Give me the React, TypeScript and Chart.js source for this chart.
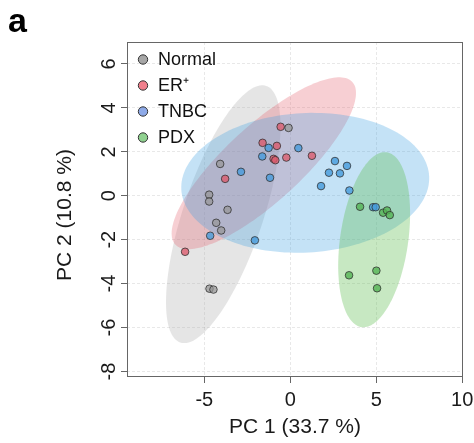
import React, { useEffect, useRef } from "react";
import { Chart, registerables } from "chart.js";
Chart.register(...registerables);

const seriesLabels = ["Normal", "ER⁺", "TNBC", "PDX"];

const normalX = [-0.1, -4.08, -4.72, -4.72, -3.65, -4.31, -4.02, -4.7, -4.47];
const normalY = [3.09, 1.45, 0.05, -0.26, -0.64, -1.23, -1.58, -4.23, -4.27];

const erX = [-0.56, -1.61, -0.78, -0.97, -0.87, -0.23, 1.26, -3.79, -6.12];
const erY = [3.14, 2.41, 2.27, 1.68, 1.62, 1.74, 1.82, 0.77, -2.55];

const tnbcX = [-1.26, 0.47, -1.63, -2.87, -1.18, -4.66, -2.06, 2.6, 3.3, 2.25, 2.89, 1.79, 3.44, 4.82, 4.97];
const tnbcY = [2.18, 2.17, 1.79, 1.09, 0.82, -1.82, -2.03, 1.58, 1.36, 1.05, 1.02, 0.44, 0.24, -0.52, -0.52];

const pdxX = [4.06, 5.4, 5.63, 5.79, 3.42, 5.01, 5.05];
const pdxY = [-0.5, -0.77, -0.67, -0.88, -3.62, -3.41, -4.21];

// confidence ellipses: [centerX, centerY, axis1X, axis1Y, axis2X, axis2Y] in data units
const normalEllipse = [-3.9, -0.84, 2.5, 5.84, 2.2, -0.58];
const erEllipse = [-1.54, 1.48, 5.15, 3.7, 1.5, -1.27];
const tnbcEllipse = [0.87, 0.59, 7.21, 0.3, 0.21, -3.17];
const pdxEllipse = [4.88, -2.0, 0.73, 3.98, 1.96, -0.22];

const xTicks = [-5, 0, 5, 10];
const yTicks = [-8, -6, -4, -2, 0, 2, 4, 6];
const xTitle = "PC 1 (33.7 %)";
const yTitle = "PC 2 (10.8 %)";
const panelLabel = "a";

const FONT = "'Liberation Sans', Arial, Helvetica, sans-serif";

const pointFill = ["rgba(150,150,150,0.72)", "rgba(220,90,108,0.78)", "rgba(70,155,220,0.8)", "rgba(85,180,85,0.8)"];
const legendFill = ["#a6a6a6", "#f07f8c", "#8eaae8", "#8fd18f"];
const ellipseFill = ["rgba(170,170,170,0.3)", "rgba(228,95,110,0.3)", "rgba(60,160,225,0.3)", "rgba(95,190,80,0.35)"];
const ellipses = [normalEllipse, erEllipse, tnbcEllipse, pdxEllipse];

export default function App() {
  const ref = useRef<HTMLCanvasElement>(null);

  useEffect(() => {
    document.body.style.margin = "0";
    const canvas = ref.current!;
    const mk = (xs: number[], ys: number[]) => xs.map((x, i) => ({ x, y: ys[i] }));
    const series = [mk(normalX, normalY), mk(erX, erY), mk(tnbcX, tnbcY), mk(pdxX, pdxY)];

    const ellipsePlugin = {
      id: "ellipses",
      beforeDatasetsDraw(chart: any) {
        const { ctx, chartArea, scales } = chart;
        const xs = scales.x, ys = scales.y;
        ctx.save();
        ctx.beginPath();
        ctx.rect(chartArea.left, chartArea.top, chartArea.right - chartArea.left, chartArea.bottom - chartArea.top);
        ctx.clip();
        ellipses.forEach((e, k) => {
          const [cx, cy, ux, uy, vx, vy] = e;
          ctx.beginPath();
          const n = 160;
          for (let i = 0; i <= n; i++) {
            const t = (2 * Math.PI * i) / n;
            const px = xs.getPixelForValue(cx + ux * Math.cos(t) + vx * Math.sin(t));
            const py = ys.getPixelForValue(cy + uy * Math.cos(t) + vy * Math.sin(t));
            if (i === 0) ctx.moveTo(px, py);
            else ctx.lineTo(px, py);
          }
          ctx.closePath();
          ctx.fillStyle = ellipseFill[k];
          ctx.fill();
        });
        ctx.restore();
      },
    };

    const decorPlugin = {
      id: "decor",
      afterDraw(chart: any) {
        const { ctx, chartArea, scales } = chart;
        const ys = scales.y;
        ctx.save();
        // frame
        ctx.strokeStyle = "#666";
        ctx.lineWidth = 1;
        ctx.strokeRect(chartArea.left + 0.5, chartArea.top + 0.5, chartArea.right - chartArea.left - 1, chartArea.bottom - chartArea.top - 1);
        // y tick labels (rotated)
        ctx.fillStyle = "#1a1a1a";
        ctx.font = `20px ${FONT}`;
        ctx.textAlign = "center";
        ctx.textBaseline = "middle";
        yTicks.forEach((v) => {
          const py = ys.getPixelForValue(v);
          ctx.save();
          ctx.translate(109, py);
          ctx.rotate(-Math.PI / 2);
          ctx.fillText(String(v), 0, 0);
          ctx.restore();
        });
        // y title
        ctx.save();
        ctx.font = `21px ${FONT}`;
        ctx.translate(65, 215);
        ctx.rotate(-Math.PI / 2);
        ctx.fillText(yTitle, 0, 0);
        ctx.restore();
        // panel label
        ctx.font = `bold 34px ${FONT}`;
        ctx.textAlign = "left";
        ctx.textBaseline = "alphabetic";
        ctx.fillStyle = "#000";
        ctx.fillText(panelLabel, 8, 32);
        // legend
        const lx = chartArea.left + 16;
        const ly0 = chartArea.top + 17.5;
        const step = 26;
        ctx.font = `18px ${FONT}`;
        ctx.textBaseline = "middle";
        seriesLabels.forEach((lab, i) => {
          const y = ly0 + i * step;
          ctx.beginPath();
          ctx.arc(lx, y, 4.7, 0, Math.PI * 2);
          ctx.fillStyle = legendFill[i];
          ctx.fill();
          ctx.lineWidth = 1;
          ctx.strokeStyle = "#333";
          ctx.stroke();
          ctx.fillStyle = "#111";
          ctx.fillText(lab, lx + 15, y + 1);
        });
        ctx.restore();
      },
    };

    const chart = new Chart(canvas, {
      type: "scatter",
      data: {
        datasets: series.map((d, i) => ({
          label: seriesLabels[i],
          data: d,
          backgroundColor: pointFill[i],
          borderColor: "rgba(45,45,45,0.85)",
          borderWidth: 0.9,
          pointRadius: 3.8,
        })),
      },
      options: {
        responsive: false,
        animation: false,
        devicePixelRatio: 1,
        layout: { padding: { left: 52, top: 42, right: 11, bottom: 3 } },
        plugins: { legend: { display: false }, tooltip: { enabled: false } },
        scales: {
          x: {
            type: "linear",
            min: -9.5,
            max: 10.05,
            afterBuildTicks: (s: any) => {
              s.ticks = xTicks.map((v) => ({ value: v }));
            },
            afterFit: (s: any) => {
              s.height = 63;
              s.paddingLeft = 0;
              s.paddingRight = 0;
            },
            ticks: {
              callback: (v: any) => String(v),
              font: { size: 20, family: FONT },
              color: "#1a1a1a",
              padding: 5,
              maxRotation: 0,
              minRotation: 0,
            },
            grid: { color: "rgba(0,0,0,0.09)", tickColor: "#666", tickLength: 6, drawTicks: true },
            border: { display: false, dash: [3, 2] },
            title: { display: true, text: xTitle, font: { size: 21, family: FONT }, color: "#1a1a1a", padding: 0 },
          },
          y: {
            type: "linear",
            min: -8.25,
            max: 7.0,
            afterBuildTicks: (s: any) => {
              s.ticks = yTicks.map((v) => ({ value: v }));
            },
            afterFit: (s: any) => {
              s.width = 75;
              s.paddingTop = 0;
              s.paddingBottom = 0;
            },
            ticks: { display: false },
            grid: { color: "rgba(0,0,0,0.09)", tickColor: "#666", tickLength: 6, drawTicks: true },
            border: { display: false, dash: [3, 2] },
            title: { display: false },
          },
        },
      },
      plugins: [ellipsePlugin, decorPlugin],
    } as any);
    return () => chart.destroy();
  }, []);

  return (
    <div style={{ position: "absolute", left: 0, top: 0, width: 474, height: 443 }}>
      <canvas ref={ref} width={474} height={443} style={{ display: "block", width: 474, height: 443 }} />
    </div>
  );
}
